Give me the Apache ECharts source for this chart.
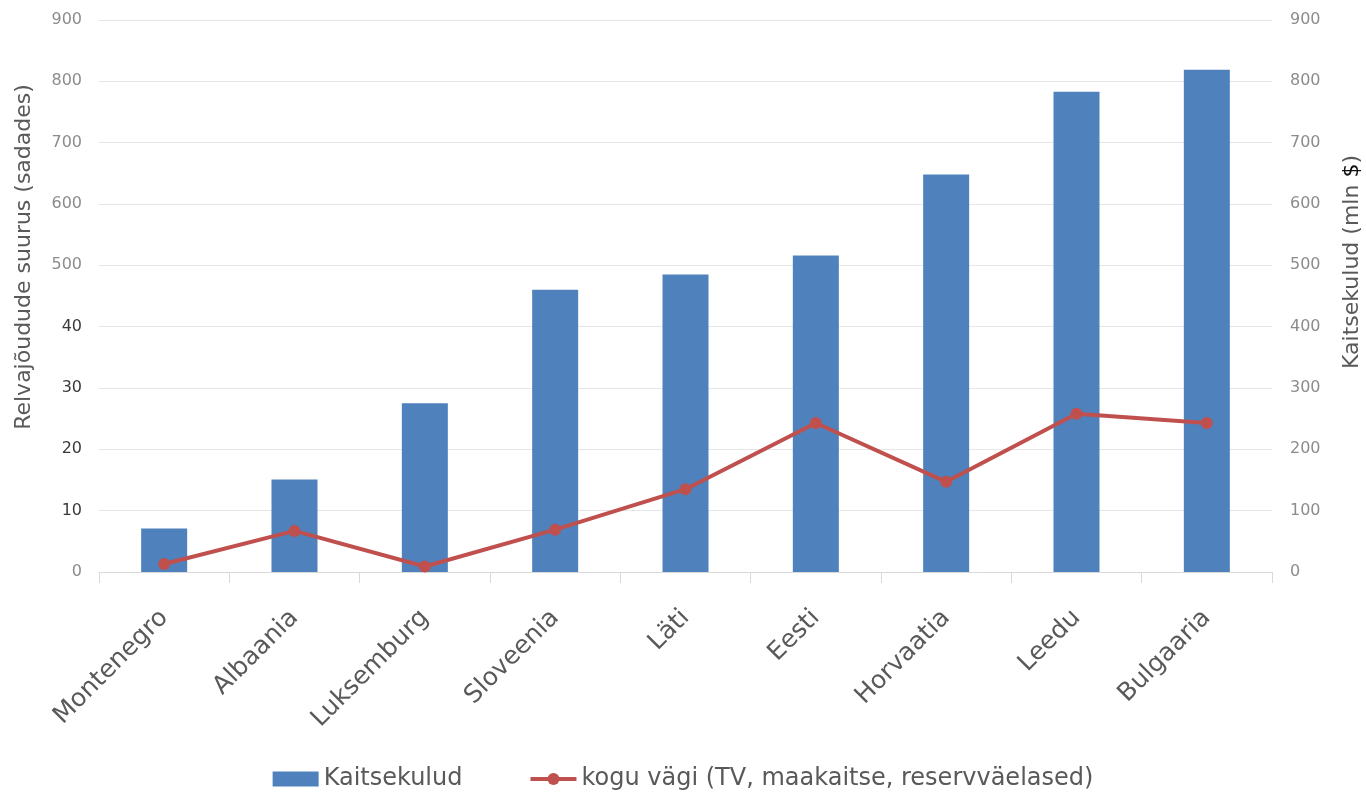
<!DOCTYPE html>
<html>
<head>
<meta charset="utf-8">
<script src="https://cdn.jsdelivr.net/npm/echarts@6/dist/echarts.min.js"></script>
<style>
html,body{margin:0;padding:0;background:#fff;}
#chart{width:1366px;height:796px;}
</style>
</head>
<body>
<div id="chart"></div>
<script>
const categories = ['Montenegro','Albaania','Luksemburg','Sloveenia','Läti','Eesti','Horvaatia','Leedu','Bulgaaria'];
const kaitsekulud = [71, 151, 275, 460, 485, 516, 648, 783, 819];
const koguVagi = [1.3, 6.7, 0.9, 6.9, 13.5, 24.3, 14.7, 25.8, 24.3];
const leftTickLabels = ['0','10','20','30','40','500','600','700','800','900'];

const FONT = 'DejaVu Sans';
const chart = echarts.init(document.getElementById('chart'));
chart.setOption({
  animation: false,
  grid: {left: 99, right: 94, top: 20, bottom: 224, containLabel: false, outerBoundsMode: 'none'},
  legend: {
    top: 762, left: 'center', itemGap: 66, itemWidth: 46, itemHeight: 15,
    textStyle: {fontFamily: FONT, fontSize: 24, color: '#595959'},
    lineStyle: {width: 4},
    data: [
      {name: 'Kaitsekulud', icon: 'rect'},
      {name: 'kogu vägi (TV, maakaitse, reservväelased)'}
    ]
  },
  xAxis: {
    type: 'category', data: categories,
    axisLine: {lineStyle: {color: '#d9d9d9', width: 1}},
    axisTick: {show: true, length: 11, lineStyle: {color: '#d9d9d9'}},
    axisLabel: {rotate: 45, margin: 42, fontFamily: FONT, fontSize: 25, color: '#595959'}
  },
  yAxis: [
    {
      type: 'value', min: 0, max: 90, interval: 10, position: 'left',
      name: 'Relvajõudude suurus (sadades)', nameLocation: 'middle', nameGap: 64, nameRotate: 90,
      nameTextStyle: {fontFamily: FONT, fontSize: 22, color: '#595959', padding: [0, 0, 0, 78]},
      axisLine: {show: false}, axisTick: {show: false},
      splitLine: {lineStyle: {color: '#e6e6e6', width: 1}},
      axisLabel: {
        margin: 17, fontFamily: FONT, fontSize: 16,
        formatter: function (v) { return leftTickLabels[Math.round(v / 10)]; },
        color: function (v) { const i = Math.round(v / 10); return (i >= 1 && i <= 4) ? '#3a3a3a' : '#8c8c8c'; }
      }
    },
    {
      type: 'value', min: 0, max: 900, interval: 100, position: 'right',
      name: 'Kaitsekulud (mln {d|$})', nameLocation: 'middle', nameGap: 69, nameRotate: 90,
      nameTextStyle: {fontFamily: FONT, fontSize: 22, color: '#595959', padding: [0, 0, 0, 68],
        rich: {d: {fontFamily: FONT, fontSize: 22, color: '#111'}}},
      axisLine: {show: false}, axisTick: {show: false},
      splitLine: {show: false},
      axisLabel: {margin: 18, fontFamily: FONT, fontSize: 16, color: '#8c8c8c'}
    }
  ],
  series: [
    {
      name: 'Kaitsekulud', type: 'bar', yAxisIndex: 1, data: kaitsekulud,
      barWidth: 46, itemStyle: {color: '#4F81BD'}
    },
    {
      name: 'kogu vägi (TV, maakaitse, reservväelased)', type: 'line', yAxisIndex: 0, data: koguVagi,
      symbol: 'circle', symbolSize: 12,
      lineStyle: {color: '#C0504D', width: 4}, itemStyle: {color: '#C0504D'}
    }
  ]
});
</script>
</body>
</html>
